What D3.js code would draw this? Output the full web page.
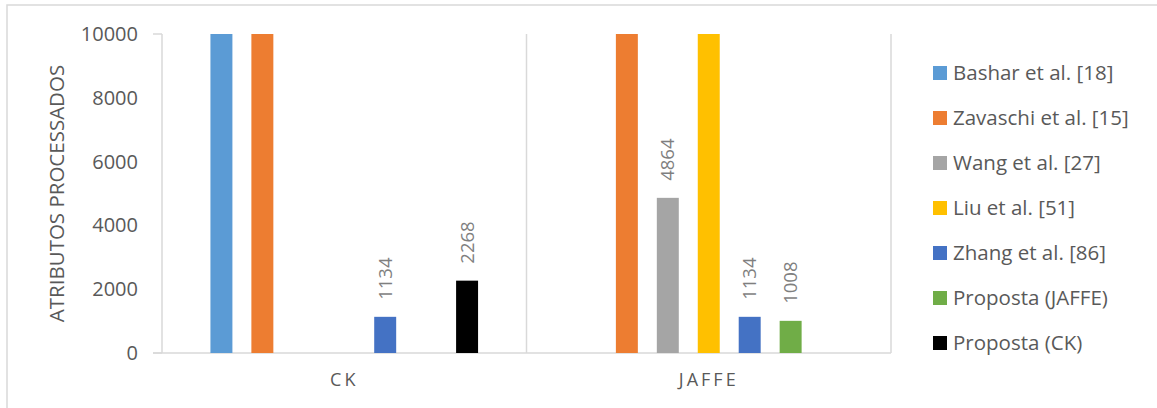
<!DOCTYPE html>
<html>
<head>
<meta charset="utf-8">
<script src="https://cdn.jsdelivr.net/npm/d3@7"></script>
<style>
  html, body { margin: 0; padding: 0; background: #fff; }
  svg { display: block; }
  text { font-family: "Open Sans", "Noto Sans", sans-serif; }
</style>
</head>
<body>
<svg id="chart" width="1157" height="408"></svg>
<script>
// ---- data ----
const categories = ["CK", "JAFFE"];
const seriesNames = [
  "Bashar et al. [18]",
  "Zavaschi et al. [15]",
  "Wang et al. [27]",
  "Liu et al. [51]",
  "Zhang et al. [86]",
  "Proposta (JAFFE)",
  "Proposta (CK)"
];
const seriesColors = ["#5B9BD5", "#ED7D31", "#A5A5A5", "#FFC000", "#4472C4", "#70AD47", "#000000"];
// values per series: [CK, JAFFE]; null = no bar
const valuesCK    = [10000, 10000, null, null, 1134, null, 2268];
const valuesJAFFE = [null, 10000, 4864, 10000, 1134, 1008, null];
const showLabel   = [false, false, true, false, true, true, true];
const yTicks = [0, 2000, 4000, 6000, 8000, 10000];
const yTitle = "ATRIBUTOS PROCESSADOS";

// ---- layout ----
const svg = d3.select("#chart");
const plot = { left: 162, right: 891, top: 34, bottom: 353 };

// chart border
svg.append("rect")
  .attr("x", 7).attr("y", 5).attr("width", 1157).attr("height", 420)
  .attr("fill", "none").attr("stroke", "#d9d9d9").attr("stroke-width", 1.5);

const x0 = d3.scaleBand().domain(categories).range([plot.left, plot.right]).paddingInner(0).paddingOuter(0);
const catW = x0.bandwidth();
const gapOuter = catW * (39 / 365);
const x1 = d3.scaleBand().domain(d3.range(seriesNames.length))
  .range([gapOuter, catW - gapOuter]).paddingInner(0).paddingOuter(0);
const barW = x1.bandwidth() * (22 / 41);

const y = d3.scaleLinear().domain([0, 10000]).range([plot.bottom, plot.top]);

// vertical category separators
const seps = [plot.left, ...categories.map(c => x0(c) + catW)];
svg.append("g").selectAll("line").data(seps).join("line")
  .attr("x1", d => d).attr("x2", d => d)
  .attr("y1", plot.top).attr("y2", plot.bottom)
  .attr("stroke", "#d9d9d9").attr("stroke-width", 1.5);

// small left ticks at axis ends
svg.append("g").selectAll("line").data([0, 10000]).join("line")
  .attr("x1", plot.left - 9).attr("x2", plot.left)
  .attr("y1", d => y(d)).attr("y2", d => y(d))
  .attr("stroke", "#d9d9d9").attr("stroke-width", 1.5);

// x axis baseline
svg.append("line")
  .attr("x1", plot.left - 9).attr("x2", plot.right)
  .attr("y1", y(0)).attr("y2", y(0))
  .attr("stroke", "#d9d9d9").attr("stroke-width", 1.5);

// y axis tick labels
const yAxis = d3.axisLeft(y).tickValues(yTicks).tickSize(0).tickPadding(24).tickFormat(d3.format("d"));
const gy = svg.append("g").attr("transform", `translate(${plot.left},0)`).call(yAxis);
gy.select(".domain").remove();
gy.selectAll("text").attr("fill", "#595959").style("font-size", "20px")
  .style("font-family", "'Open Sans', sans-serif");

// y axis title
svg.append("text")
  .attr("transform", `translate(64,${(plot.top + plot.bottom) / 2 + 0}) rotate(-90)`)
  .attr("text-anchor", "middle")
  .attr("fill", "#595959").style("font-size", "20.5px")
  .text(yTitle);

// category labels
const xAxis = d3.axisBottom(x0).tickSize(0).tickPadding(20);
const gx = svg.append("g").attr("transform", `translate(0,${plot.bottom})`).call(xAxis);
gx.select(".domain").remove();
gx.selectAll("text").attr("fill", "#595959").style("font-size", "18px")
  .style("letter-spacing", "3px")
  .style("font-family", "'Open Sans', sans-serif");

// bars
const rows = [];
categories.forEach((c, ci) => {
  const vals = ci === 0 ? valuesCK : valuesJAFFE;
  vals.forEach((v, si) => { if (v !== null) rows.push({ c, si, v }); });
});

const barX = d => x0(d.c) + x1(d.si) + (x1.bandwidth() - barW) / 2;

svg.append("g").selectAll("rect").data(rows).join("rect")
  .attr("x", barX)
  .attr("y", d => y(d.v))
  .attr("width", barW)
  .attr("height", d => y(0) - y(d.v))
  .attr("fill", d => seriesColors[d.si]);

// data labels (rotated)
svg.append("g").selectAll("text").data(rows.filter(d => showLabel[d.si])).join("text")
  .attr("transform", d => `translate(${barX(d) + barW / 2 + 6.5},${y(d.v) - 17}) rotate(-90)`)
  .attr("text-anchor", "start")
  .attr("fill", "#7f7f7f").style("font-size", "18.5px")
  .text(d => d3.format("d")(d.v));

// legend
const lg = svg.append("g").attr("transform", "translate(933,73)");
const items = lg.selectAll("g").data(seriesNames).join("g")
  .attr("transform", (d, i) => `translate(0,${i * 45})`);
items.append("rect").attr("x", 0).attr("y", -7).attr("width", 14).attr("height", 14)
  .attr("fill", (d, i) => seriesColors[i]);
items.append("text").attr("x", 20).attr("y", 0).attr("dy", "0.35em")
  .attr("fill", "#595959").style("font-size", "20.5px")
  .text(d => d);
</script>
</body>
</html>
